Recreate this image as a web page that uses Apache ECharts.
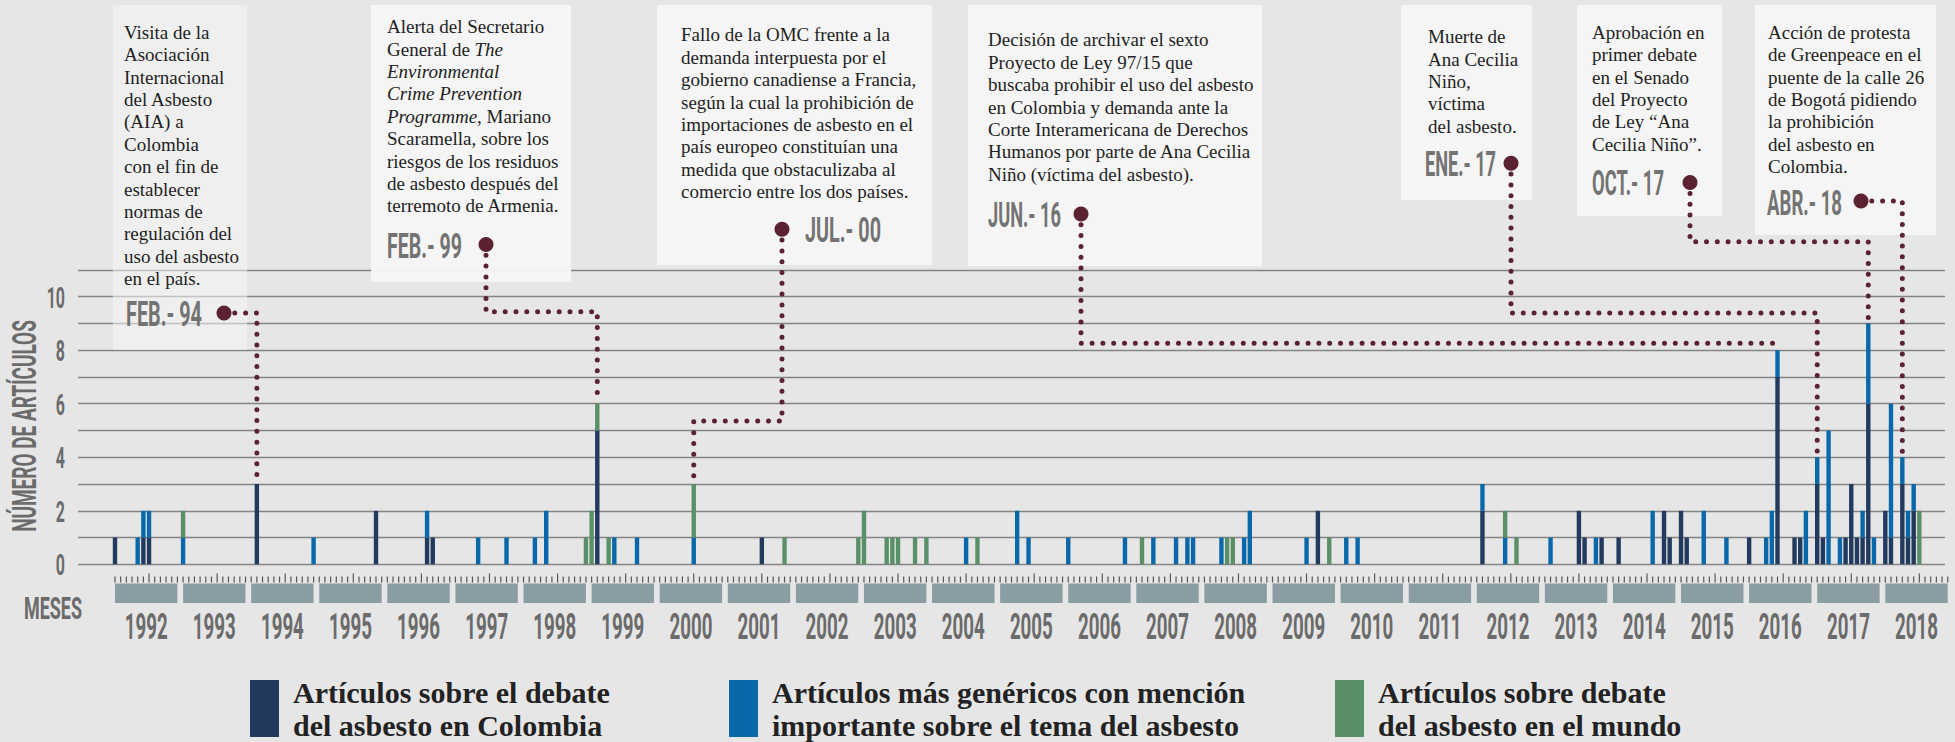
<!DOCTYPE html>
<html><head><meta charset="utf-8">
<script src="https://cdn.jsdelivr.net/npm/echarts@6/dist/echarts.min.js"></script>
<style>html,body{margin:0;padding:0;background:#e6e6e6;}#c{width:1955px;height:742px;}</style>
</head><body><div id="c"></div>
<script>
// ---------------- DATA ----------------
const years = [1992,1993,1994,1995,1996,1997,1998,1999,2000,2001,2002,2003,2004,2005,2006,2007,2008,2009,2010,2011,2012,2013,2014,2015,2016,2017,2018];
const yTickLabels = [0,2,4,6,8,10];
const seriesNames = [
  'Artículos sobre el debate del asbesto en Colombia',
  'Artículos más genéricos con mención importante sobre el tema del asbesto',
  'Artículos sobre debate del asbesto en el mundo'
];
const legendLines = [
  'Artículos sobre el debate\ndel asbesto en Colombia',
  'Artículos más genéricos con mención\nimportante sobre el tema del asbesto',
  'Artículos sobre debate\ndel asbesto en el mundo'
];
// [month, number of articles]
const colombiaDebate = [
  ['1992-01',1],['1992-06',1],['1992-07',1],['1994-02',3],['1995-11',2],['1996-08',1],['1996-09',1],
  ['1999-02',5],['2001-07',1],['2009-09',2],['2012-02',2],['2013-07',2],['2013-08',1],['2013-11',1],
  ['2014-02',1],['2014-10',2],['2014-11',1],['2015-01',2],['2015-02',1],['2016-01',1],['2016-06',7],
  ['2016-09',1],['2016-10',1],['2017-01',3],['2017-02',1],['2017-06',1],['2017-07',3],['2017-08',1],
  ['2017-09',1],['2017-10',6],['2018-01',2],['2018-02',1],['2018-04',3],['2018-05',1],['2018-06',2]
];
const genericMention = [
  ['1992-05',1],['1992-06',1],['1992-07',1],['1993-01',1],['1994-12',1],['1996-08',1],['1997-05',1],
  ['1997-10',1],['1998-03',1],['1998-05',2],['1999-05',1],['1999-09',1],['2000-07',1],['2004-07',1],
  ['2005-04',2],['2005-06',1],['2006-01',1],['2006-11',1],['2007-04',1],['2007-08',1],['2007-10',1],
  ['2007-11',1],['2008-04',1],['2008-08',1],['2008-09',2],['2009-07',1],['2010-02',1],['2010-04',1],
  ['2012-02',1],['2012-06',1],['2013-02',1],['2013-10',1],['2014-08',2],['2015-05',2],['2015-09',1],
  ['2016-04',1],['2016-05',2],['2016-06',1],['2016-11',2],['2017-01',1],['2017-03',5],['2017-05',1],
  ['2017-09',1],['2017-10',3],['2017-11',1],['2018-02',5],['2018-04',1],['2018-05',1],['2018-06',1]
];
const worldDebate = [
  ['1993-01',1],['1998-12',1],['1999-01',2],['1999-02',1],['1999-04',1],['2000-07',2],['2001-11',1],
  ['2002-12',1],['2003-01',2],['2003-05',1],['2003-06',1],['2003-07',1],['2003-10',1],['2003-12',1],
  ['2004-09',1],['2007-02',1],['2008-05',1],['2008-06',1],['2009-11',1],['2012-06',1],['2012-08',1],
  ['2018-07',2]
];
const eventMonths = ['1994-02','1999-02','2000-07','2016-06','2017-01','2017-10','2018-04'];
const eventDates = ['FEB.- 94','FEB.- 99','JUL.- 00','JUN.- 16','ENE.- 17','OCT.- 17','ABR.- 18'];
const eventTexts = [
  ['Visita de la','Asociación','Internacional','del Asbesto','(AIA) a','Colombia','con el fin de','establecer','normas de','regulación del','uso del asbesto','en el país.'],
  ['Alerta del Secretario','General de *The*','*Environmental*','*Crime Prevention*','*Programme*, Mariano','Scaramella, sobre los','riesgos de los residuos','de asbesto después del','terremoto de Armenia.'],
  ['Fallo de la OMC frente a la','demanda interpuesta por el','gobierno canadiense a Francia,','según la cual la prohibición de','importaciones de asbesto en el','país europeo constituían una','medida que obstaculizaba al','comercio entre los dos países.'],
  ['Decisión de archivar el sexto','Proyecto de Ley 97/15 que','buscaba prohibir el uso del asbesto','en Colombia y demanda ante la','Corte Interamericana de Derechos','Humanos por parte de Ana Cecilia','Niño (víctima del asbesto).'],
  ['Muerte de','Ana Cecilia','Niño,','víctima','del asbesto.'],
  ['Aprobación en','primer debate','en el Senado','del Proyecto','de Ley “Ana','Cecilia Niño”.'],
  ['Acción de protesta','de Greenpeace en el','puente de la calle 26','de Bogotá pidiendo','la prohibición','del asbesto en','Colombia.']
];

// ---------------- LAYOUT (pixels) ----------------
const eventLayout = [
  {box:[113,5,134,345], alpha:0.55, text:[124,21.1], date:[126,313], dateW:76, dot:[224,313], bendY:null},
  {box:[371,5,200,277], alpha:0.95, text:[387,15.5], date:[387,245], dateW:75, dot:[486,244.5], bendY:311.7},
  {box:[657,5,275,260], alpha:0.95, text:[681,23.8], date:[805,229.3], dateW:76, dot:[782,229.3], bendY:421},
  {box:[968,5,294,261], alpha:0.95, text:[988,28.8], date:[988,214.5], dateW:73, dot:[1081,214], bendY:343.3},
  {box:[1401,5,131,195], alpha:0.95, text:[1428,25.5], date:[1425,163], dateW:71, dot:[1511,163.3], bendY:313},
  {box:[1577,5,145,211], alpha:0.95, text:[1592,21.1], date:[1592,182.6], dateW:72, dot:[1690,182.6], bendY:241.7},
  {box:[1755,5,181,230], alpha:0.95, text:[1768,21.1], date:[1767,202], dateW:75, dot:[1861,201], bendY:null}
];
const COLORS = ['#213a5d','#0868a9','#5a9068'];
const MAROON = '#5b2231';
const GREY_TXT = '#6b6b6b';
const COND = 'Roboto';
const SERIF = '"Liberation Serif", "Times New Roman", serif';
const GRID_TOP = 269.94, GRID_H = 294.36;

// ---------------- helpers ----------------
const months = [];
years.forEach(y => { for (let m = 1; m <= 12; m++) months.push(y + '-' + String(m).padStart(2, '0')); });
function dense(pairs) {
  const a = months.map(() => 0);
  pairs.forEach(([k, v]) => { a[months.indexOf(k)] = v; });
  return a;
}
const seriesData = [dense(colombiaDebate), dense(genericMention), dense(worldDebate)];
const mctx = document.createElement('canvas').getContext('2d');
function measure(text, size) { mctx.font = 'bold ' + size + 'px ' + COND; return mctx.measureText(text).width; }
const YEAR_FS = 36, YLAB_FS = 30, DATE_FS = 35, TITLE_FS = 34, MESES_FS = 32;
const yearScale = 43 / measure('1992', YEAR_FS);
const ylabScale = 18.3 / measure('10', YLAB_FS);
const titleScale = 212 / measure('NÚMERO DE ARTÍCULOS', TITLE_FS);
const mesesScale = 58 / measure('MESES', MESES_FS);

function toRich(lines) {
  return lines.map(l => l.split('*').map((seg, j) => seg ? '{' + (j % 2 ? 'i' : 'n') + '|' + seg + '}' : '').join('')).join('\n');
}
const richStyles = {
  n: {fontFamily: SERIF, fontSize: 19, lineHeight: 22.4, fill: '#1e1e1e'},
  i: {fontFamily: SERIF, fontSize: 19, lineHeight: 22.4, fill: '#1e1e1e', fontStyle: 'italic'}
};

const chart = echarts.init(document.getElementById('c'), null, {renderer: 'svg'});

const barSeries = seriesNames.map((name, k) => ({
  name, type: 'bar', xAxisIndex: 1, yAxisIndex: 1, stack: 'total', barWidth: 4.4, silent: true,
  itemStyle: {color: COLORS[k]}, data: seriesData[k], z: 3
}));

const option = {
  backgroundColor: '#e6e6e6',
  animation: false,
  grid: [
    {left: 78, right: 10, top: GRID_TOP, height: GRID_H},
    {left: 112.16, width: 1838.4, top: GRID_TOP, height: GRID_H}
  ],
  xAxis: [
    {gridIndex: 0, type: 'value', min: 0, max: 1, show: false},
    {gridIndex: 1, type: 'category', data: months, boundaryGap: true,
     axisLine: {show: false}, axisTick: {show: false}, axisLabel: {show: false}, splitLine: {show: false}}
  ],
  yAxis: [
    {gridIndex: 0, type: 'value', min: 0, max: 11, interval: 1,
     axisLine: {show: false}, axisTick: {show: false}, axisLabel: {show: false},
     splitLine: {show: true, lineStyle: {color: '#848484', width: 1.3}}},
    {gridIndex: 1, type: 'value', min: 0, max: 11, interval: 1, show: false, splitLine: {show: false}}
  ],
  legend: seriesNames.map((n, k) => ({
    data: [n], left: [250, 729, 1335][k], top: 675.5, padding: 0, icon: 'rect',
    itemWidth: 29, itemHeight: 57, selectedMode: false,
    formatter: () => legendLines[k],
    textStyle: {fontFamily: SERIF, fontWeight: 'bold', fontSize: 30, lineHeight: 33, color: '#222', padding: [0, 0, 0, 9]}
  })),
  series: [
    ...barSeries,
    { // month ticks
      type: 'custom', xAxisIndex: 1, yAxisIndex: 1, silent: true, clip: false, z: 1,
      data: months.map((m, i) => [i, 0]), encode: {x: 0, y: 1},
      renderItem(params, api) {
        const i = api.value(0);
        const x = api.coord([i, 0])[0];
        const tall = i % 12 === 6;
        return {type: 'line', shape: {x1: x, y1: tall ? 573.5 : 576.5, x2: x, y2: 582.5},
                style: {stroke: '#555', lineWidth: 1.2}};
      }
    },
    { // year bands + labels
      type: 'custom', xAxisIndex: 1, yAxisIndex: 1, silent: true, clip: false, z: 1,
      data: years.map((y, k) => [k * 12, k * 12 + 11, 0]), encode: {x: [0, 1], y: 2},
      renderItem(params, api) {
        const x1 = api.coord([api.value(0), 0])[0];
        const x2 = api.coord([api.value(1), 0])[0];
        return {type: 'group', children: [
          {type: 'rect', shape: {x: x1, y: 583.5, width: x2 - x1, height: 19.5}, style: {fill: '#8a9da2'}},
          {type: 'text', x: (x1 + x2) / 2, y: 626, scaleX: yearScale,
           style: {text: String(years[params.dataIndex]), align: 'center', verticalAlign: 'middle',
                   fill: GREY_TXT, fontFamily: COND, fontWeight: 'bold', fontSize: YEAR_FS}}
        ]};
      }
    },
    { // y tick labels
      type: 'custom', xAxisIndex: 1, yAxisIndex: 1, silent: true, clip: false, z: 1,
      data: yTickLabels.map(v => [0, v]), encode: {x: 0, y: 1},
      renderItem(params, api) {
        const y = api.coord([0, api.value(1)])[1];
        return {type: 'text', x: 65, y: y + 1, scaleX: ylabScale,
                style: {text: String(api.value(1)), align: 'right', verticalAlign: 'middle',
                        fill: GREY_TXT, fontFamily: COND, fontWeight: 'bold', fontSize: YLAB_FS}};
      }
    },
    { // annotations
      type: 'custom', xAxisIndex: 1, yAxisIndex: 1, silent: true, clip: false, z: 4,
      data: eventMonths.map(m => { const i = months.indexOf(m); return [i, seriesData[0][i] + seriesData[1][i] + seriesData[2][i]]; }),
      encode: {x: 0, y: 1},
      renderItem(params, api) {
        const k = params.dataIndex;
        const L = eventLayout[k];
        const p = api.coord([api.value(0), api.value(1)]);
        const bx = p[0], by = p[1] - 3;
        const pts = [L.dot.slice()];
        if (L.bendY === null) { pts.push([bx, L.dot[1]]); }
        else { pts.push([L.dot[0], L.bendY]); pts.push([bx, L.bendY]); }
        pts.push([bx, by]);
        const ds = L.dateW / measure(eventDates[k], DATE_FS);
        return {type: 'group', children: [
          {type: 'rect', shape: {x: L.box[0], y: L.box[1], width: L.box[2], height: L.box[3]},
           style: {fill: 'rgba(246,246,246,' + L.alpha + ')'}},
          {type: 'text', x: L.text[0], y: L.text[1],
           style: {text: toRich(eventTexts[k]), rich: richStyles, align: 'left', verticalAlign: 'top',
                   fontFamily: SERIF, fontSize: 19, lineHeight: 22.4, fill: '#1e1e1e'}},
          {type: 'text', x: L.date[0], y: L.date[1] + 1, scaleX: ds,
           style: {text: eventDates[k], align: 'left', verticalAlign: 'middle',
                   fill: '#737373', fontFamily: COND, fontWeight: 'bold', fontSize: DATE_FS}},
          {type: 'polyline', shape: {points: pts},
           style: {stroke: MAROON, lineWidth: 5, lineDash: [0, 10.8], lineCap: 'round', fill: null}},
          {type: 'circle', shape: {cx: L.dot[0], cy: L.dot[1], r: 7.5}, style: {fill: MAROON}}
        ]};
      }
    }
  ],
  graphic: [
    {type: 'text', x: 24, y: 426, rotation: Math.PI / 2, scaleX: titleScale,
     style: {text: 'NÚMERO DE ARTÍCULOS', align: 'center', verticalAlign: 'middle',
             fill: GREY_TXT, fontFamily: COND, fontWeight: 'bold', fontSize: TITLE_FS}},
    {type: 'text', x: 24, y: 608, scaleX: mesesScale,
     style: {text: 'MESES', align: 'left', verticalAlign: 'middle',
             fill: GREY_TXT, fontFamily: COND, fontWeight: 'bold', fontSize: MESES_FS}}
  ]
};
chart.setOption(option);
</script></body></html>
